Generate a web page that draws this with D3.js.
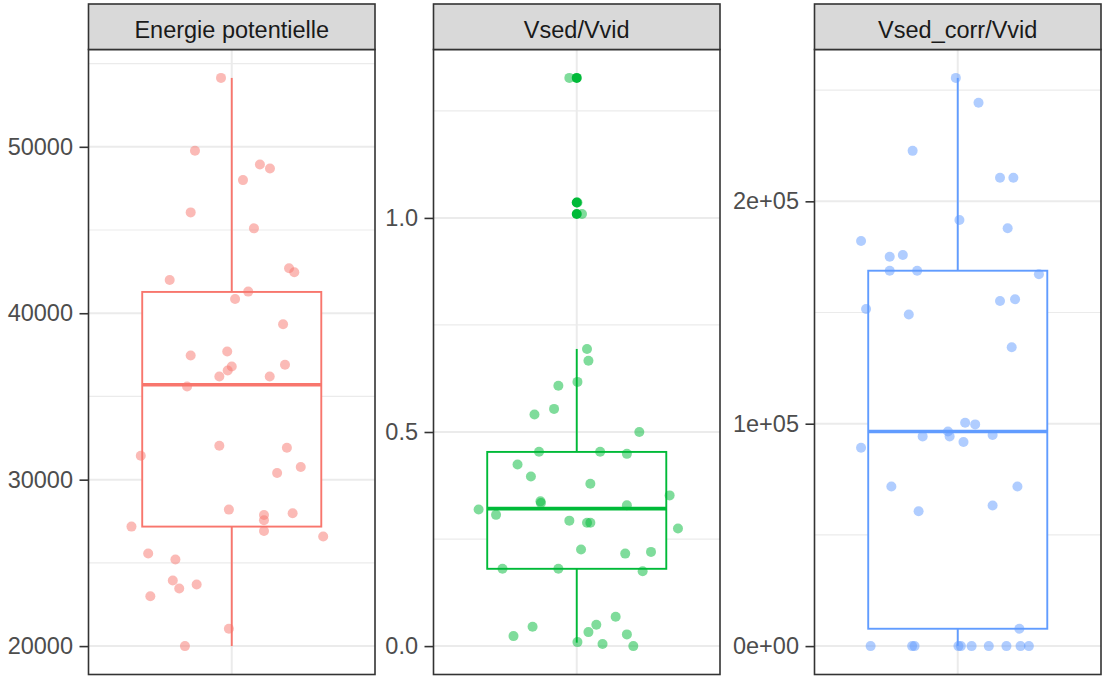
<!DOCTYPE html>
<html>
<head>
<meta charset="utf-8">
<script src="https://cdn.jsdelivr.net/npm/d3@7"></script>
<style>
  html, body { margin: 0; padding: 0; background: #ffffff; }
  svg { display: block; }
  text { font-family: "Liberation Sans", Arial, sans-serif; }
</style>
</head>
<body>
<svg id="chart" width="1102" height="677"></svg>
<script>
// Facet titles and colours
const facetLabels = ["Energie potentielle", "Vsed/Vvid", "Vsed_corr/Vvid"];
const facetColors = ["#F8766D", "#00BA38", "#619CFF"];

// Energie potentielle: observed values and their horizontal jitter (category units)
const energieValues = [54140, 49760, 48940, 48700, 48000, 46060, 45100, 42700, 42460, 42000,
  41300, 40860, 39340, 37460, 37700, 36800, 36560, 36200, 36900, 36200,
  35600, 32040, 31920, 31440, 30760, 30400, 28200, 27980, 27880, 27560,
  26920, 27180, 26580, 25560, 25200, 23940, 23460, 23700, 23000, 21040, 20000];
const energieJitter = [-0.045, -0.154, 0.118, 0.160, 0.047, -0.172, 0.093, 0.240, 0.262, -0.260,
  0.069, 0.014, 0.215, -0.172, -0.019, 0.000, -0.017, -0.052, 0.223, 0.159,
  -0.187, -0.052, 0.231, -0.381, 0.289, 0.190, -0.012, 0.255, 0.135, 0.135,
  0.135, -0.420, 0.383, -0.350, -0.236, -0.247, -0.220, -0.147, -0.341, -0.012, -0.196];

// Vsed/Vvid
const vsedValues = [0.694, 0.6665, 0.617, 0.608, 0.554, 0.541, 0.500, 0.454, 0.454, 0.449,
  0.424, 0.396, 0.379, 0.352, 0.338, 0.334, 0.329, 0.319, 0.3065, 0.293,
  0.288, 0.288, 0.2746, 0.2256, 0.216, 0.220, 0.1805, 0.1805, 0.175, 0.0686,
  0.0452, 0.050, 0.0327, 0.0273, 0.0233, 0.0093, 0.0047, 0.0, 1.327, 1.036, 1.009];
const vsedJitter = [0.043, 0.049, 0.003, -0.077, -0.095, -0.177, 0.262, -0.158, 0.098, 0.210,
  -0.248, -0.192, 0.057, 0.389, -0.152, -0.150, 0.210, -0.411, -0.338, -0.031,
  0.043, 0.057, 0.424, 0.018, 0.203, 0.311, -0.311, -0.077, 0.276, 0.163,
  -0.185, 0.082, 0.049, 0.210, -0.265, 0.003, 0.108, 0.237, -0.031, 0.003, 0.022];
const vsedOutliers = [1.327, 1.036, 1.009];

// Vsed_corr/Vvid
const vcorrValues = [255500, 244300, 222700, 210600, 210600, 191600, 187900, 182200, 175100, 175900,
  168800, 168800, 167200, 155200, 156000, 151600, 149100, 134400, 100400, 99700,
  96500, 94300, 94300, 94900, 91800, 89200, 71800, 71800, 63200, 60600,
  7800, 0, 0, 0, 0, 0, 0, 0, 0, 0, 0];
const vcorrJitter = [-0.008, 0.087, -0.189, 0.177, 0.233, 0.007, 0.209, -0.405, -0.285, -0.230,
  -0.285, -0.170, 0.340, 0.177, 0.240, -0.384, -0.205, 0.226, 0.031, 0.073,
  -0.041, -0.034, -0.147, 0.146, 0.024, -0.405, -0.278, 0.250, 0.146, -0.164,
  0.258, -0.365, -0.191, -0.181, 0.003, 0.013, 0.058, 0.130, 0.204, 0.263, 0.298];

// Box summaries per facet: lower whisker, Q1, median, Q3, upper whisker
const boxLow    = [20000, 0.008, 0];
const boxQ1     = [27180, 0.1805, 7800];
const boxMedian = [35700, 0.321, 96500];
const boxQ3     = [41280, 0.4535, 168800];
const boxHigh   = [54140, 0.694, 255500];

// Axis ticks per facet
const majorTicks = [[20000, 30000, 40000, 50000], [0, 0.5, 1.0], [0, 100000, 200000]];
const minorTicks = [[25000, 35000, 45000, 55000], [0.25, 0.75, 1.25], [50000, 150000, 250000]];
const tickLabels = [["20000", "30000", "40000", "50000"], ["0.0", "0.5", "1.0"], ["0e+00", "1e+05", "2e+05"]];

const valuesByFacet = [energieValues, vsedValues, vcorrValues];
const jitterByFacet = [energieJitter, vsedJitter, vcorrJitter];
const outliersByFacet = [[], vsedOutliers, []];

// Layout
const panelX = [88.5, 433.5, 814.5];
const panelW = 286.5;
const stripTop = 4, stripBottom = 49.5, panelBottom = 674.5;
const fontSize = 23.5;

const svg = d3.select("#chart");

facetLabels.forEach((label, i) => {
  const x0 = panelX[i];
  const vals = valuesByFacet[i];
  const all = vals.concat(outliersByFacet[i], [boxLow[i], boxHigh[i]]);
  const lo = d3.min(all), hi = d3.max(all);
  const pad = (hi - lo) * 0.05;

  const y = d3.scaleLinear().domain([lo - pad, hi + pad]).range([panelBottom, stripBottom]);
  const x = d3.scaleLinear().domain([0.4, 1.6]).range([x0, x0 + panelW]);
  const color = facetColors[i];

  const g = svg.append("g");

  // panel background
  g.append("rect")
    .attr("x", x0).attr("y", stripBottom)
    .attr("width", panelW).attr("height", panelBottom - stripBottom)
    .attr("fill", "#ffffff");

  // minor grid
  g.selectAll(".minor").data(minorTicks[i]).enter().append("line")
    .attr("x1", x0).attr("x2", x0 + panelW)
    .attr("y1", d => y(d)).attr("y2", d => y(d))
    .attr("stroke", "#EBEBEB").attr("stroke-width", 1.2);

  // major grid
  g.selectAll(".major").data(majorTicks[i]).enter().append("line")
    .attr("x1", x0).attr("x2", x0 + panelW)
    .attr("y1", d => y(d)).attr("y2", d => y(d))
    .attr("stroke", "#EBEBEB").attr("stroke-width", 2);

  g.append("line")
    .attr("x1", x(1)).attr("x2", x(1))
    .attr("y1", stripBottom).attr("y2", panelBottom)
    .attr("stroke", "#EBEBEB").attr("stroke-width", 2);

  // boxplot
  const bx0 = x(1 - 0.375), bx1 = x(1 + 0.375);
  g.append("line")
    .attr("x1", x(1)).attr("x2", x(1))
    .attr("y1", y(boxQ3[i])).attr("y2", y(boxHigh[i]))
    .attr("stroke", color).attr("stroke-width", 1.9);
  g.append("line")
    .attr("x1", x(1)).attr("x2", x(1))
    .attr("y1", y(boxQ1[i])).attr("y2", y(boxLow[i]))
    .attr("stroke", color).attr("stroke-width", 1.9);
  g.append("rect")
    .attr("x", bx0).attr("y", y(boxQ3[i]))
    .attr("width", bx1 - bx0).attr("height", y(boxQ1[i]) - y(boxQ3[i]))
    .attr("fill", "#ffffff").attr("stroke", color).attr("stroke-width", 1.9);
  g.append("line")
    .attr("x1", bx0).attr("x2", bx1)
    .attr("y1", y(boxMedian[i])).attr("y2", y(boxMedian[i]))
    .attr("stroke", color).attr("stroke-width", 3.6);

  // outliers
  g.selectAll(".outlier").data(outliersByFacet[i]).enter().append("circle")
    .attr("cx", x(1)).attr("cy", d => y(d)).attr("r", 5)
    .attr("fill", color);

  // jittered observations
  const pts = vals.map((v, k) => ({ v, j: jitterByFacet[i][k] }));
  g.selectAll(".pt").data(pts).enter().append("circle")
    .attr("cx", d => x(1 + d.j)).attr("cy", d => y(d.v)).attr("r", 5)
    .attr("fill", color).attr("fill-opacity", 0.5);

  // panel border
  g.append("rect")
    .attr("x", x0).attr("y", stripBottom)
    .attr("width", panelW).attr("height", panelBottom - stripBottom)
    .attr("fill", "none").attr("stroke", "#333333").attr("stroke-width", 1.6);

  // strip
  g.append("rect")
    .attr("x", x0).attr("y", stripTop)
    .attr("width", panelW).attr("height", stripBottom - stripTop)
    .attr("fill", "#D9D9D9").attr("stroke", "#333333").attr("stroke-width", 1.6);
  g.append("text")
    .attr("x", x0 + panelW / 2).attr("y", 37.5)
    .attr("text-anchor", "middle")
    .attr("font-size", fontSize).attr("fill", "#1A1A1A")
    .text(label);

  // y axis
  const axis = d3.axisLeft(y)
    .tickValues(majorTicks[i])
    .tickFormat((d, k) => tickLabels[i][k])
    .tickSize(9).tickPadding(6.5);
  const ag = svg.append("g").attr("transform", `translate(${x0},0)`).call(axis);
  ag.select(".domain").remove();
  ag.selectAll(".tick line").attr("stroke", "#333333").attr("stroke-width", 1.6);
  ag.selectAll(".tick text")
    .attr("font-size", fontSize).attr("fill", "#4D4D4D")
    .attr("font-family", "'Liberation Sans', Arial, sans-serif");
});
</script>
</body>
</html>
